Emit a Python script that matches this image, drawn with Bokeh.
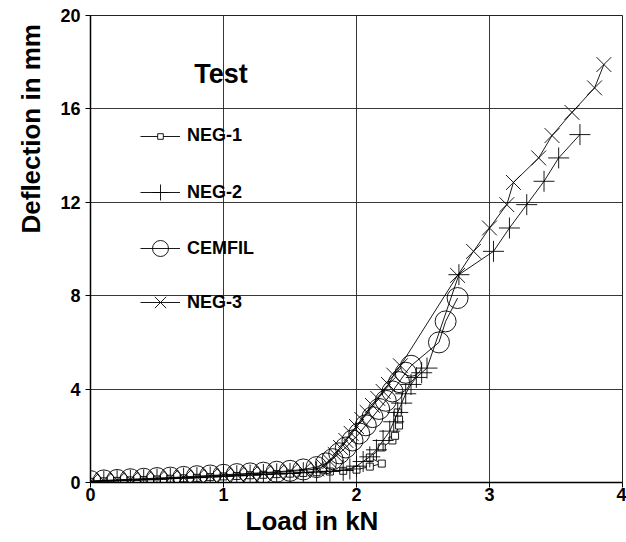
from bokeh.plotting import figure
from bokeh.models import Range1d, Legend, LegendItem, Label, FixedTicker, Title
from bokeh.embed import file_html
from bokeh.resources import INLINE

# ---- data ----
neg1_x = [0.0, 0.1, 0.2, 0.3, 0.4, 0.5, 0.6, 0.7, 0.8, 0.9, 1.0, 1.1, 1.2, 1.3, 1.4,
          1.5, 1.6, 1.7, 1.8, 1.9, 2.0, 2.1, 2.19, 2.1, 2.19, 2.27, 2.29, 2.32, 2.32, 2.31]
neg1_y = [0.03, 0.05, 0.07, 0.09, 0.11, 0.13, 0.16, 0.18, 0.2, 0.23, 0.26, 0.28, 0.31, 0.33, 0.36,
          0.38, 0.41, 0.44, 0.47, 0.5, 0.55, 0.68, 0.81, 1.07, 1.5, 1.8, 2.0, 2.44, 2.7, 3.0]

neg2_x = [0.0, 0.1, 0.2, 0.3, 0.4, 0.5, 0.6, 0.7, 0.8, 0.9, 1.0, 1.1, 1.2, 1.3, 1.4,
          1.5, 1.6, 1.7, 1.8, 1.9, 1.95, 2.0, 2.05, 2.1, 2.15, 2.2, 2.25, 2.28, 2.31,
          2.34, 2.37, 2.41, 2.45, 2.49, 2.53, 2.77, 3.03, 3.15, 3.28, 3.41, 3.52, 3.68]
neg2_y = [0.04, 0.06, 0.08, 0.1, 0.12, 0.14, 0.17, 0.19, 0.21, 0.24, 0.27, 0.29, 0.32, 0.34, 0.37,
          0.39, 0.42, 0.45, 0.48, 0.52, 0.58, 0.7, 0.9, 1.1, 1.4, 1.8, 2.2, 2.6, 3.0,
          3.4, 3.8, 4.2, 4.5, 4.7, 4.9, 8.9, 9.9, 10.9, 11.9, 12.9, 13.9, 14.9]

cemfil_x = [0.0, 0.1, 0.2, 0.3, 0.4, 0.5, 0.6, 0.7, 0.8, 0.9, 1.0, 1.1, 1.2, 1.3, 1.4,
            1.5, 1.6, 1.7, 1.77, 1.82, 1.87, 1.92, 1.97, 2.02, 2.07, 2.12, 2.17, 2.22,
            2.27, 2.32, 2.37, 2.41, 2.62, 2.67, 2.76]
cemfil_y = [0.06, 0.09, 0.11, 0.14, 0.16, 0.19, 0.21, 0.24, 0.27, 0.3, 0.33, 0.36, 0.39, 0.42, 0.46,
            0.5, 0.56, 0.66, 0.82, 1.0, 1.25, 1.5, 1.8, 2.1, 2.45, 2.8, 3.15, 3.5,
            3.9, 4.3, 4.7, 5.0, 6.0, 6.9, 7.9]

neg3_x = [0.0, 0.1, 0.2, 0.3, 0.4, 0.5, 0.6, 0.7, 0.8, 0.9, 1.0, 1.1, 1.2, 1.3, 1.4,
          1.5, 1.6, 1.7, 1.75, 1.8, 1.84, 1.88, 1.92, 1.96, 2.0, 2.04, 2.08, 2.12, 2.16,
          2.2, 2.24, 2.28, 2.33, 2.76, 2.88, 3.0, 3.13, 3.18, 3.37, 3.47, 3.62, 3.79, 3.86]
neg3_y = [0.05, 0.08, 0.1, 0.12, 0.15, 0.17, 0.2, 0.22, 0.25, 0.28, 0.31, 0.34, 0.37, 0.4, 0.43,
          0.47, 0.52, 0.58, 0.7, 0.9, 1.2, 1.5, 1.8, 2.1, 2.4, 2.7, 3.0, 3.3, 3.6,
          3.9, 4.2, 4.6, 5.0, 8.87, 9.9, 10.9, 11.9, 12.85, 13.9, 14.86, 15.85, 16.9, 17.9]

x_ticks = [0, 1, 2, 3, 4]
y_ticks = [0, 4, 8, 12, 16, 20]
series_names = ["NEG-1", "NEG-2", "CEMFIL", "NEG-3"]
legend_title = "Test"
x_title = "Load in kN"
y_title = "Deflection in mm"

FONT = "Liberation Sans"

p = figure(width=626, height=540, x_range=Range1d(0, 4), y_range=Range1d(0, 20),
           output_backend="svg", toolbar_location=None,
           min_border_left=90, min_border_right=4, min_border_top=15, min_border_bottom=58)
p.background_fill_color = "white"
p.border_fill_color = "white"
p.outline_line_color = "#222222"
p.outline_line_width = 1

p.xaxis.ticker = FixedTicker(ticks=x_ticks)
p.yaxis.ticker = FixedTicker(ticks=y_ticks)
p.xgrid.ticker = FixedTicker(ticks=x_ticks)
p.ygrid.ticker = FixedTicker(ticks=y_ticks)
for g in (p.xgrid, p.ygrid):
    g.grid_line_color = "#222222"
    g.grid_line_width = 1
    g.grid_line_alpha = 0.9

for ax in (p.xaxis, p.yaxis):
    ax.axis_line_color = "black"
    ax.axis_line_width = 1.5
    ax.major_tick_line_color = "black"
    ax.major_tick_out = 5
    ax.major_tick_in = 0
    ax.minor_tick_line_color = None
    ax.major_label_text_font = FONT
    ax.major_label_text_font_style = "bold"
    ax.major_label_text_font_size = "18px"
    ax.major_label_text_color = "black"
p.xaxis.major_label_standoff = 0
p.yaxis.major_label_standoff = 5

lw = 0.9
r1l = p.line(neg1_x, neg1_y, line_color="black", line_width=lw)
r1s = p.scatter(neg1_x, neg1_y, marker="square", size=7, fill_color="white",
                line_color="black", line_width=lw)
r2l = p.line(neg2_x, neg2_y, line_color="black", line_width=lw)
r2s = p.scatter(neg2_x, neg2_y, marker="cross", size=21, line_color="black", line_width=lw)
r3l = p.line(cemfil_x, cemfil_y, line_color="black", line_width=lw)
r3s = p.scatter(cemfil_x, cemfil_y, marker="circle", size=21, fill_color=None,
                line_color="black", line_width=lw)
r4l = p.line(neg3_x, neg3_y, line_color="black", line_width=lw)
r4s = p.scatter(neg3_x, neg3_y, marker="x", size=21, line_color="black", line_width=lw)

legend_specs = [
    (series_names[0], [r1l, r1s], 14, 336),
    (series_names[1], [r2l, r2s], 40, 270),
    (series_names[2], [r3l, r3s], 40, 214),
    (series_names[3], [r4l, r4s], 40, 160),
]
for name, rs, gh, yb in legend_specs:
    lg = Legend(items=[LegendItem(label=name, renderers=rs)], location=(50, yb),
                glyph_width=40, glyph_height=gh, label_height=gh, label_standoff=7,
                padding=0, margin=0, border_line_color=None, background_fill_alpha=0,
                label_text_font=FONT, label_text_font_style="bold",
                label_text_font_size="18px", label_text_color="black")
    p.add_layout(lg)

p.add_layout(Label(x=0.78, y=17.5, text=legend_title, text_align="left", text_baseline="middle",
                   text_font=FONT, text_font_style="bold", text_font_size="27px",
                   text_color="black"))

p.add_layout(Title(text=x_title, align="left", offset=155, standoff=0,
                   text_font=FONT, text_font_style="bold", text_font_size="26px",
                   text_color="black"), "below")
p.add_layout(Title(text=y_title, align="left", offset=249, standoff=20,
                   vertical_align="top",
                   text_font=FONT, text_font_style="bold", text_font_size="26px",
                   text_color="black"), "left")

open("out.html", "w").write(file_html(p, INLINE))
